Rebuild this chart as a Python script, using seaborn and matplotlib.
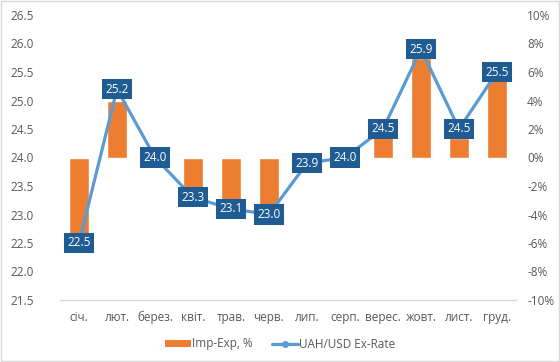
import matplotlib
matplotlib.use("Agg")
import matplotlib.pyplot as plt
import seaborn as sns
import numpy as np
from matplotlib.ticker import FuncFormatter, MultipleLocator
from matplotlib.lines import Line2D
from matplotlib.patches import Patch

months = ["січ.", "лют.", "берез.", "квіт.", "трав.", "черв.", "лип.", "серп.", "верес.", "жовт.", "лист.", "груд."]
imp_exp = [-5.6, 4.0, 0.0, -2.4, -3.0, -3.6, 0.0, 0.0, 1.5, 7.0, 1.4, 5.5]
rate = [22.5, 25.2, 24.0, 23.3, 23.1, 23.0, 23.9, 24.0, 24.5, 25.9, 24.5, 25.5]

sns.set_style("white")
plt.rcParams["font.family"] = ["Open Sans", "DejaVu Sans"]

BAR = "#ED7D31"
LINE = "#5B9BD5"
LBL = "#1F5C94"
TXT = "#595959"

fig = plt.figure(figsize=(5.6, 3.62), dpi=100)
ax = fig.add_axes([60/560, 1-300/362, (516-60)/560, (300-15)/362])
ax2 = ax.twinx()

sns.barplot(x=months, y=imp_exp, ax=ax2, color=BAR, width=0.55, saturation=1)
sns.pointplot(x=months, y=rate, ax=ax, color=LINE, markers="o", linewidth=2.3, markersize=4)

ax.set_zorder(ax2.get_zorder() + 1)
ax.patch.set_visible(False)

ax.set_ylim(21.5, 26.5)
ax.yaxis.set_major_locator(MultipleLocator(0.5))
ax.yaxis.set_major_formatter(FuncFormatter(lambda v, p: f"{v:.1f}"))
ax2.set_ylim(-10, 10)
ax2.yaxis.set_major_locator(MultipleLocator(2))
ax2.yaxis.set_major_formatter(FuncFormatter(lambda v, p: f"{v:.0f}%"))
ax.set_xlim(-0.5, len(months) - 0.5)

for a in (ax, ax2):
    for s in a.spines.values():
        s.set_visible(False)
    a.tick_params(length=0, labelsize=8.5, colors=TXT)
    a.set_xlabel("")
    a.set_ylabel("")
ax.tick_params(axis="y", pad=19)
ax2.tick_params(axis="y", pad=8)
ax.tick_params(axis="x", pad=8)
ax.spines["bottom"].set_visible(True)
ax.spines["bottom"].set_color("#D9D9D9")
ax.spines["bottom"].set_linewidth(1)

for i, v in enumerate(rate):
    ax.text(i, v, f"{v:.1f}", ha="center", va="center", color="white", fontsize=8.5,
            bbox=dict(boxstyle="square,pad=0.3", facecolor=LBL, edgecolor="none"), zorder=10)

handles = [Patch(facecolor=BAR, edgecolor="none"),
           Line2D([0], [0], color=LINE, lw=2.3, marker="o", markersize=4)]
fig.legend(handles, ["Imp-Exp, %", "UAH/USD Ex-Rate"], loc="center", bbox_to_anchor=(0.5, 1-344/362),
           ncol=2, frameon=False, fontsize=8.5, labelcolor=TXT, handlelength=2.2, handleheight=0.6,
           columnspacing=1.6, handletextpad=0.1)

fig.patches.append(plt.Rectangle((0.002, 0.003), 0.996, 0.994, transform=fig.transFigure,
                                 fill=False, edgecolor="#D9D9D9", lw=1))
fig.savefig("out.png", dpi=100)
